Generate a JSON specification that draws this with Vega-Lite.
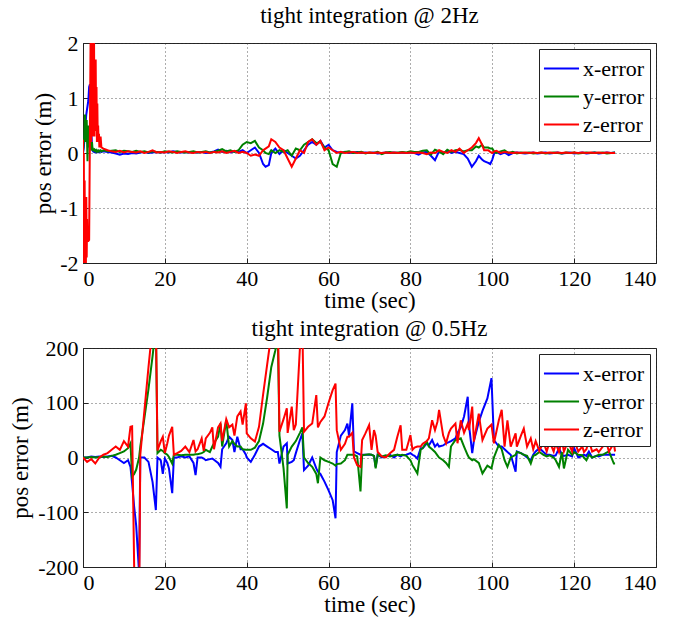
{
  "$schema": "https://vega.github.io/schema/vega-lite/v6.json",
  "padding": {"left": 8, "top": 4, "right": 5, "bottom": 5},
  "spacing": 4,
  "config": {
    "font": "Liberation Serif",
    "view": {"stroke": "#222", "strokeWidth": 1},
    "axis": {
      "labelFont": "Liberation Serif", "labelFontSize": 22, "labelColor": "#000",
      "titleFont": "Liberation Serif", "titleFontSize": 23, "titleFontWeight": "normal", "titleColor": "#000",
      "domainColor": "#222", "ticks": true, "tickSize": -5, "tickColor": "#222", "labelPadding": 10, "titlePadding": 0,
      "gridColor": "#333", "gridDash": [1, 3], "gridOpacity": 0.8, "labelExpr": "'' + datum.value"
    },
    "title": {"font": "Liberation Serif", "fontSize": 23, "fontWeight": "normal", "color": "#000", "baseline": "alphabetic"},
    "legend": {
      "orient": "top-right", "offset": 6, "strokeColor": "#222", "fillColor": "white", "padding": 5,
      "labelFont": "Liberation Serif", "labelFontSize": 22, "labelColor": "#000", "labelOffset": 7,
      "symbolType": "M-1.3,0H1.3", "symbolSize": 729, "symbolStrokeWidth": 2, "symbolOffset": 3, "rowPadding": 2, "title": null
    }
  },
  "resolve": {"legend": {"color": "independent"}, "scale": {"color": "independent"}},
  "datasets": {
    "top": [
      {"t":0,"x":0.0,"y":0.0,"z":0.24},
      {"t":0.1,"x":0.05,"y":0.1,"z":-2.2},
      {"t":0.2,"x":0.1,"y":0.2,"z":0.0},
      {"t":0.3,"x":0.2,"y":0.3,"z":-2.3},
      {"t":0.4,"x":0.3,"y":0.5,"z":-0.5},
      {"t":0.5,"x":0.4,"y":0.7,"z":-2.2},
      {"t":0.6,"x":0.5,"y":0.4,"z":-1.0},
      {"t":0.7,"x":0.6,"y":0.2,"z":-2.1},
      {"t":0.8,"x":0.7,"y":0.5,"z":-0.8},
      {"t":0.9,"x":0.75,"y":0.6,"z":-1.9},
      {"t":1.0,"x":0.8,"y":0.2,"z":-1.2},
      {"t":1.1,"x":0.85,"y":-0.15,"z":-1.6},
      {"t":1.3,"x":0.95,"y":0.5,"z":-1.6},
      {"t":1.5,"x":1.2,"y":0.1,"z":-1.58},
      {"t":1.7,"x":1.25,"y":0.3,"z":0.5},
      {"t":1.9,"x":1.0,"y":0.1,"z":2.5},
      {"t":2.0,"x":0.6,"y":0.05,"z":0.2},
      {"t":2.1,"x":0.3,"y":0.15,"z":2.4},
      {"t":2.2,"x":0.1,"y":0.2,"z":0.5},
      {"t":2.3,"x":0.05,"y":0.1,"z":2.5},
      {"t":2.4,"x":0.04,"y":0.05,"z":0.3},
      {"t":2.5,"x":0.03,"y":0.05,"z":2.2},
      {"t":2.6,"x":0.04,"y":0.08,"z":0.6},
      {"t":2.7,"x":0.03,"y":0.05,"z":2.0},
      {"t":2.8,"x":0.02,"y":0.04,"z":0.3},
      {"t":2.9,"x":0.03,"y":0.06,"z":1.7},
      {"t":3.0,"x":0.02,"y":0.05,"z":0.4},
      {"t":3.1,"x":0.03,"y":0.04,"z":1.7},
      {"t":3.2,"x":0.02,"y":0.05,"z":0.5},
      {"t":3.3,"x":0.03,"y":0.03,"z":1.2},
      {"t":3.4,"x":0.02,"y":0.04,"z":0.2},
      {"t":3.5,"x":0.03,"y":0.03,"z":0.9},
      {"t":3.6,"x":0.02,"y":0.04,"z":0.3},
      {"t":3.7,"x":0.03,"y":0.03,"z":0.5},
      {"t":3.8,"x":0.02,"y":0.04,"z":0.2},
      {"t":3.9,"x":0.03,"y":0.03,"z":0.35},
      {"t":4.0,"x":0.02,"y":0.04,"z":0.1},
      {"t":4.3,"x":0.03,"y":0.05,"z":0.3},
      {"t":4.5,"x":0.02,"y":0.03,"z":0.1},
      {"t":5,"x":0.03,"y":0.05,"z":0.08},
      {"t":6,"x":0.02,"y":0.03,"z":0.05},
      {"t":7,"x":0.01,"y":0.04,"z":0.03},
      {"t":8,"x":-0.01,"y":0.05,"z":0.02},
      {"t":9,"x":-0.03,"y":0.02,"z":0.04},
      {"t":10,"x":-0.01,"y":0.04,"z":0.01},
      {"t":11,"x":-0.02,"y":0.03,"z":0.03},
      {"t":12,"x":0.0,"y":0.02,"z":0.02},
      {"t":13,"x":-0.01,"y":0.04,"z":0.01},
      {"t":14,"x":0.01,"y":0.02,"z":0.03},
      {"t":15,"x":0.02,"y":0.03,"z":0.0},
      {"t":16,"x":0.0,"y":0.01,"z":0.02},
      {"t":17,"x":0.01,"y":0.03,"z":0.05},
      {"t":18,"x":0.02,"y":0.02,"z":0.01},
      {"t":19,"x":0.01,"y":0.01,"z":0.02},
      {"t":20,"x":0.02,"y":0.03,"z":0.01},
      {"t":21,"x":0.01,"y":0.02,"z":0.03},
      {"t":22,"x":0.03,"y":0.01,"z":0.02},
      {"t":23,"x":0.02,"y":0.03,"z":0.0},
      {"t":24,"x":0.01,"y":0.02,"z":0.02},
      {"t":25,"x":0.02,"y":0.01,"z":0.03},
      {"t":26,"x":0.01,"y":0.02,"z":0.01},
      {"t":27,"x":0.02,"y":0.03,"z":0.0},
      {"t":28,"x":0.01,"y":0.01,"z":0.02},
      {"t":29,"x":0.02,"y":0.02,"z":0.01},
      {"t":30,"x":0.0,"y":0.03,"z":0.02},
      {"t":31,"x":0.01,"y":0.01,"z":0.0},
      {"t":32,"x":0.03,"y":0.02,"z":0.02},
      {"t":33,"x":0.06,"y":0.04,"z":0.01},
      {"t":34,"x":0.02,"y":0.07,"z":0.03},
      {"t":35,"x":0.04,"y":0.03,"z":0.0},
      {"t":36,"x":0.01,"y":0.05,"z":0.02},
      {"t":37,"x":0.03,"y":0.02,"z":0.04},
      {"t":38,"x":0.02,"y":0.05,"z":0.0},
      {"t":39,"x":0.05,"y":0.15,"z":0.02},
      {"t":40,"x":0.0,"y":0.2,"z":0.0},
      {"t":41,"x":0.05,"y":0.18,"z":-0.05},
      {"t":42,"x":0.1,"y":0.22,"z":-0.03},
      {"t":43,"x":0.0,"y":0.1,"z":-0.05},
      {"t":44,"x":-0.2,"y":0.05,"z":0.05},
      {"t":44.6,"x":-0.25,"y":0.0,"z":0.08},
      {"t":45.4,"x":-0.22,"y":-0.02,"z":0.12},
      {"t":46,"x":0.0,"y":0.05,"z":0.25},
      {"t":47,"x":0.08,"y":0.0,"z":0.2},
      {"t":48,"x":-0.02,"y":0.05,"z":0.1},
      {"t":49,"x":0.05,"y":0.02,"z":0.05},
      {"t":50,"x":0.0,"y":0.05,"z":-0.1},
      {"t":51,"x":-0.05,"y":-0.05,"z":-0.25},
      {"t":52,"x":-0.1,"y":0.08,"z":-0.1},
      {"t":53,"x":-0.05,"y":0.05,"z":0.05},
      {"t":54,"x":0.05,"y":0.15,"z":0.0},
      {"t":55,"x":0.15,"y":0.2,"z":0.2},
      {"t":56,"x":0.2,"y":0.25,"z":0.25},
      {"t":57,"x":0.15,"y":0.18,"z":0.15},
      {"t":58,"x":0.22,"y":0.2,"z":0.22},
      {"t":59,"x":0.1,"y":0.1,"z":0.05},
      {"t":60,"x":0.15,"y":0.05,"z":0.1},
      {"t":61,"x":0.05,"y":-0.2,"z":0.05},
      {"t":62,"x":0.02,"y":-0.25,"z":0.0},
      {"t":63,"x":0.0,"y":0.0,"z":0.02},
      {"t":64,"x":0.02,"y":0.02,"z":0.0},
      {"t":65,"x":0.0,"y":0.03,"z":0.01},
      {"t":66,"x":0.01,"y":0.0,"z":0.02},
      {"t":67,"x":0.02,"y":0.01,"z":0.0},
      {"t":68,"x":0.0,"y":0.02,"z":0.01},
      {"t":69,"x":0.01,"y":-0.01,"z":0.0},
      {"t":70,"x":0.0,"y":0.01,"z":0.01},
      {"t":71,"x":0.01,"y":0.0,"z":0.0},
      {"t":72,"x":-0.01,"y":0.02,"z":0.01},
      {"t":73,"x":0.0,"y":-0.02,"z":0.0},
      {"t":74,"x":0.01,"y":0.01,"z":0.01},
      {"t":75,"x":0.0,"y":0.02,"z":0.0},
      {"t":76,"x":0.01,"y":0.0,"z":0.01},
      {"t":77,"x":0.0,"y":0.01,"z":0.0},
      {"t":78,"x":0.01,"y":0.02,"z":0.01},
      {"t":79,"x":0.0,"y":0.01,"z":0.0},
      {"t":80,"x":0.01,"y":0.03,"z":0.01},
      {"t":81,"x":0.0,"y":0.02,"z":0.0},
      {"t":82,"x":-0.03,"y":0.02,"z":0.01},
      {"t":83,"x":0.01,"y":0.04,"z":0.0},
      {"t":84,"x":0.02,"y":0.05,"z":-0.02},
      {"t":85,"x":-0.05,"y":-0.03,"z":0.01},
      {"t":86,"x":-0.13,"y":0.06,"z":0.0},
      {"t":87,"x":0.03,"y":0.03,"z":0.05},
      {"t":88,"x":0.0,"y":-0.02,"z":0.02},
      {"t":89,"x":0.04,"y":0.06,"z":0.0},
      {"t":90,"x":0.0,"y":0.02,"z":0.05},
      {"t":91,"x":0.02,"y":0.05,"z":0.02},
      {"t":92,"x":0.0,"y":0.06,"z":0.08},
      {"t":93,"x":-0.02,"y":0.03,"z":0.0},
      {"t":94,"x":-0.1,"y":0.05,"z":0.05},
      {"t":95,"x":-0.25,"y":0.05,"z":0.1},
      {"t":96,"x":-0.15,"y":0.12,"z":0.18},
      {"t":96.7,"x":-0.05,"y":0.1,"z":0.27},
      {"t":97.5,"x":-0.12,"y":0.15,"z":0.15},
      {"t":98,"x":-0.15,"y":0.1,"z":0.05},
      {"t":99,"x":-0.18,"y":0.1,"z":0.05},
      {"t":99.5,"x":-0.2,"y":0.08,"z":0.02},
      {"t":100,"x":-0.12,"y":0.08,"z":0.0},
      {"t":100.5,"x":0.0,"y":0.02,"z":0.03},
      {"t":101,"x":0.02,"y":0.0,"z":0.04},
      {"t":102,"x":-0.02,"y":0.03,"z":0.0},
      {"t":103,"x":0.01,"y":0.05,"z":0.02},
      {"t":104,"x":-0.04,"y":0.0,"z":0.01},
      {"t":105,"x":0.0,"y":0.02,"z":0.0},
      {"t":106,"x":0.01,"y":-0.01,"z":0.01},
      {"t":107,"x":0.0,"y":0.01,"z":0.0},
      {"t":108,"x":-0.01,"y":0.0,"z":0.01},
      {"t":109,"x":0.0,"y":0.01,"z":0.0},
      {"t":110,"x":0.01,"y":-0.01,"z":0.01},
      {"t":111,"x":-0.01,"y":0.0,"z":0.0},
      {"t":112,"x":0.0,"y":0.01,"z":0.01},
      {"t":113,"x":0.01,"y":-0.01,"z":0.0},
      {"t":114,"x":-0.01,"y":0.0,"z":0.01},
      {"t":115,"x":0.0,"y":0.01,"z":0.0},
      {"t":116,"x":0.01,"y":0.0,"z":0.01},
      {"t":117,"x":-0.01,"y":-0.01,"z":0.0},
      {"t":118,"x":0.0,"y":0.01,"z":0.01},
      {"t":119,"x":0.01,"y":0.0,"z":0.0},
      {"t":120,"x":-0.01,"y":0.01,"z":0.01},
      {"t":121,"x":0.0,"y":-0.01,"z":0.0},
      {"t":122,"x":0.01,"y":0.0,"z":0.01},
      {"t":123,"x":-0.01,"y":0.01,"z":0.0},
      {"t":124,"x":0.0,"y":0.0,"z":0.01},
      {"t":125,"x":0.01,"y":0.01,"z":0.0},
      {"t":126,"x":-0.01,"y":0.0,"z":0.01},
      {"t":127,"x":0.0,"y":0.01,"z":0.0},
      {"t":128,"x":0.01,"y":-0.01,"z":0.01},
      {"t":129,"x":0.0,"y":0.0,"z":0.0},
      {"t":130,"x":0.01,"y":0.01,"z":0.0}
    ],
    "bot": [
      {"t":0,"x":0,"y":0,"z":0},
      {"t":1,"x":0,"y":0,"z":-8},
      {"t":2,"x":2,"y":1,"z":-3},
      {"t":3,"x":1,"y":0,"z":-11},
      {"t":4,"x":2,"y":1,"z":0},
      {"t":5,"x":1,"y":2,"z":5},
      {"t":6,"x":2,"y":1,"z":8},
      {"t":7,"x":3,"y":3,"z":14},
      {"t":8,"x":0,"y":5,"z":20},
      {"t":9,"x":-5,"y":8,"z":14},
      {"t":10,"x":-10,"y":11,"z":30},
      {"t":11,"x":-5,"y":17,"z":20},
      {"t":11.6,"x":-17,"y":26,"z":56},
      {"t":12,"x":-47,"y":-35,"z":57},
      {"t":12.5,"x":-90,"y":-30,"z":-200},
      {"t":13,"x":-125,"y":-22,"z":-300},
      {"t":13.7,"x":-210,"y":0,"z":-300},
      {"t":14,"x":0,"y":20,"z":5},
      {"t":15,"x":0,"y":72,"z":85},
      {"t":16,"x":-8,"y":125,"z":165},
      {"t":17,"x":-45,"y":185,"z":240},
      {"t":17.8,"x":-96,"y":240,"z":260},
      {"t":18.2,"x":0,"y":8,"z":13},
      {"t":19,"x":-5,"y":14,"z":30},
      {"t":19.5,"x":-30,"y":12,"z":38},
      {"t":20,"x":-2,"y":8,"z":8},
      {"t":20.6,"x":-10,"y":5,"z":26},
      {"t":21,"x":-20,"y":1,"z":40},
      {"t":21.8,"x":-65,"y":-11,"z":56},
      {"t":22.2,"x":0,"y":5,"z":5},
      {"t":23,"x":0,"y":5,"z":8},
      {"t":24,"x":2,"y":4,"z":12},
      {"t":25,"x":0,"y":5,"z":20},
      {"t":26,"x":2,"y":5,"z":10},
      {"t":27,"x":-10,"y":5,"z":32},
      {"t":27.5,"x":-32,"y":6,"z":11},
      {"t":28,"x":0,"y":6,"z":15},
      {"t":29,"x":0,"y":8,"z":35},
      {"t":29.5,"x":-2,"y":10,"z":12},
      {"t":30,"x":-5,"y":14,"z":35},
      {"t":31,"x":-3,"y":10,"z":45},
      {"t":31.6,"x":-2,"y":20,"z":55},
      {"t":32,"x":-4,"y":26,"z":15},
      {"t":33,"x":-10,"y":38,"z":55},
      {"t":33.6,"x":-17,"y":62,"z":62},
      {"t":34,"x":15,"y":20,"z":30},
      {"t":35,"x":26,"y":68,"z":70},
      {"t":35.7,"x":38,"y":20,"z":55},
      {"t":36.5,"x":32,"y":30,"z":60},
      {"t":37,"x":10,"y":25,"z":40},
      {"t":37.7,"x":38,"y":20,"z":75},
      {"t":38.5,"x":15,"y":20,"z":84},
      {"t":39,"x":15,"y":15,"z":60},
      {"t":39.8,"x":5,"y":14,"z":99},
      {"t":40,"x":0,"y":14,"z":44},
      {"t":41,"x":-8,"y":14,"z":35},
      {"t":42,"x":5,"y":18,"z":29},
      {"t":43,"x":20,"y":30,"z":56},
      {"t":44,"x":25,"y":62,"z":115},
      {"t":45,"x":20,"y":110,"z":170},
      {"t":46,"x":15,"y":165,"z":225},
      {"t":47,"x":10,"y":196,"z":260},
      {"t":47.6,"x":10,"y":220,"z":270},
      {"t":48,"x":-11,"y":40,"z":47},
      {"t":49,"x":20,"y":-20,"z":70},
      {"t":49.8,"x":26,"y":-93,"z":90},
      {"t":50,"x":-11,"y":5,"z":45},
      {"t":51,"x":-8,"y":20,"z":93},
      {"t":51.5,"x":-5,"y":25,"z":50},
      {"t":52,"x":8,"y":30,"z":60},
      {"t":53,"x":32,"y":45,"z":200},
      {"t":53.6,"x":44,"y":55,"z":240},
      {"t":54,"x":-23,"y":0,"z":47},
      {"t":55,"x":-15,"y":-10,"z":56},
      {"t":56,"x":0,"y":-17,"z":62},
      {"t":57,"x":-20,"y":-30,"z":114},
      {"t":57.4,"x":-26,"y":-47,"z":55},
      {"t":58,"x":-30,"y":0,"z":65},
      {"t":59,"x":-44,"y":-5,"z":75},
      {"t":60,"x":-60,"y":-8,"z":100},
      {"t":61,"x":-78,"y":-11,"z":123},
      {"t":61.7,"x":-111,"y":-15,"z":135},
      {"t":62,"x":10,"y":-12,"z":50},
      {"t":63,"x":40,"y":-11,"z":14},
      {"t":64,"x":50,"y":-5,"z":25},
      {"t":64.6,"x":62,"y":5,"z":38},
      {"t":65,"x":40,"y":5,"z":38},
      {"t":65.8,"x":99,"y":5,"z":45},
      {"t":66.2,"x":11,"y":5,"z":0},
      {"t":67,"x":8,"y":2,"z":-14},
      {"t":67.8,"x":5,"y":-62,"z":-17},
      {"t":68.2,"x":5,"y":4,"z":32},
      {"t":69,"x":5,"y":5,"z":44},
      {"t":69.9,"x":5,"y":6,"z":59},
      {"t":70.5,"x":5,"y":5,"z":14},
      {"t":71.1,"x":3,"y":3,"z":50},
      {"t":71.5,"x":-17,"y":-20,"z":40},
      {"t":72,"x":5,"y":5,"z":10},
      {"t":73,"x":0,"y":2,"z":2},
      {"t":74,"x":2,"y":4,"z":0},
      {"t":75,"x":5,"y":2,"z":8},
      {"t":76,"x":0,"y":4,"z":14},
      {"t":76.8,"x":5,"y":5,"z":38},
      {"t":77.6,"x":2,"y":4,"z":59},
      {"t":78,"x":4,"y":5,"z":14},
      {"t":79,"x":5,"y":3,"z":14},
      {"t":80,"x":8,"y":-5,"z":41},
      {"t":80.5,"x":5,"y":-14,"z":14},
      {"t":81,"x":3,"y":-20,"z":18},
      {"t":81.7,"x":-2,"y":-29,"z":20},
      {"t":82.5,"x":17,"y":14,"z":20},
      {"t":83,"x":17,"y":17,"z":25},
      {"t":84,"x":26,"y":29,"z":30},
      {"t":84.5,"x":22,"y":20,"z":35},
      {"t":85.3,"x":32,"y":15,"z":68},
      {"t":86,"x":20,"y":10,"z":50},
      {"t":86.6,"x":25,"y":4,"z":65},
      {"t":87,"x":20,"y":0,"z":87},
      {"t":88,"x":22,"y":-5,"z":40},
      {"t":88.7,"x":26,"y":-10,"z":26},
      {"t":89.4,"x":28,"y":-17,"z":45},
      {"t":89.9,"x":30,"y":20,"z":53},
      {"t":91,"x":35,"y":32,"z":62},
      {"t":91.5,"x":45,"y":33,"z":26},
      {"t":92.3,"x":55,"y":35,"z":68},
      {"t":93.1,"x":75,"y":20,"z":45},
      {"t":94,"x":111,"y":4,"z":62},
      {"t":94.3,"x":60,"y":0,"z":50},
      {"t":95.1,"x":8,"y":-5,"z":93},
      {"t":95.5,"x":30,"y":-3,"z":29},
      {"t":96.7,"x":65,"y":-10,"z":80},
      {"t":97.6,"x":85,"y":-29,"z":32},
      {"t":98.8,"x":108,"y":-15,"z":53},
      {"t":99.8,"x":145,"y":-20,"z":60},
      {"t":100.4,"x":32,"y":0,"z":26},
      {"t":101.6,"x":20,"y":23,"z":68},
      {"t":102.3,"x":20,"y":15,"z":87},
      {"t":103,"x":15,"y":-5,"z":20},
      {"t":103.7,"x":10,"y":-17,"z":68},
      {"t":104.5,"x":5,"y":0,"z":20},
      {"t":105.7,"x":-26,"y":5,"z":44},
      {"t":106,"x":11,"y":10,"z":20},
      {"t":107,"x":8,"y":8,"z":40},
      {"t":107.7,"x":5,"y":5,"z":53},
      {"t":108.5,"x":0,"y":3,"z":20},
      {"t":109.4,"x":-5,"y":-11,"z":35},
      {"t":110,"x":5,"y":3,"z":15},
      {"t":110.6,"x":11,"y":5,"z":30},
      {"t":111.5,"x":17,"y":10,"z":12},
      {"t":112.5,"x":10,"y":5,"z":28},
      {"t":113.3,"x":5,"y":2,"z":11},
      {"t":114,"x":5,"y":4,"z":29},
      {"t":115,"x":3,"y":0,"z":11},
      {"t":115.5,"x":4,"y":-5,"z":26},
      {"t":116.3,"x":17,"y":-17,"z":10},
      {"t":117,"x":5,"y":10,"z":32},
      {"t":117.5,"x":3,"y":-20,"z":11},
      {"t":118.5,"x":5,"y":14,"z":29},
      {"t":119.5,"x":2,"y":5,"z":11},
      {"t":120,"x":17,"y":10,"z":32},
      {"t":121,"x":0,"y":5,"z":11},
      {"t":122,"x":3,"y":4,"z":20},
      {"t":122.4,"x":5,"y":0,"z":10},
      {"t":123,"x":3,"y":-5,"z":15},
      {"t":123.6,"x":11,"y":5,"z":32},
      {"t":124.4,"x":0,"y":0,"z":11},
      {"t":125.5,"x":3,"y":3,"z":15},
      {"t":126,"x":2,"y":5,"z":10},
      {"t":127,"x":5,"y":5,"z":20},
      {"t":127.7,"x":5,"y":8,"z":32},
      {"t":128.5,"x":5,"y":11,"z":11},
      {"t":129.7,"x":5,"y":-11,"z":26},
      {"t":130,"x":5,"y":-11,"z":11}
    ]
  },
  "vconcat": [
    {
      "title": {"text": "tight integration @ 2Hz", "offset": 4},
      "width": 573, "height": 220,
      "data": {"name": "top"},
      "transform": [{"fold": ["x", "y", "z"], "as": ["axis", "err"]}],
      "mark": {"type": "line", "clip": true, "strokeWidth": 2},
      "encoding": {
        "x": {"field": "t", "type": "quantitative", "scale": {"domain": [0, 140], "nice": false},
              "axis": {"values": [0, 20, 40, 60, 80, 100, 120, 140], "title": "time (sec)"}},
        "y": {"field": "err", "type": "quantitative", "scale": {"domain": [-2, 2], "nice": false},
              "axis": {"values": [-2, -1, 0, 1, 2], "title": "pos error (m)", "titleBaseline": "alphabetic", "titleX": -33}},
        "color": {"field": "axis", "type": "nominal",
                  "scale": {"domain": ["x", "y", "z"], "range": ["#0000ff", "#008000", "#ff0000"]},
                  "legend": {"labelExpr": "datum.label + '-error'"}}
      }
    },
    {
      "title": {"text": "tight integration @ 0.5Hz", "offset": -4},
      "width": 573, "height": 219,
      "data": {"name": "bot"},
      "transform": [{"fold": ["x", "y", "z"], "as": ["axis", "err"]}],
      "mark": {"type": "line", "clip": true, "strokeWidth": 2},
      "encoding": {
        "x": {"field": "t", "type": "quantitative", "scale": {"domain": [0, 140], "nice": false},
              "axis": {"values": [0, 20, 40, 60, 80, 100, 120, 140], "title": "time (sec)"}},
        "y": {"field": "err", "type": "quantitative", "scale": {"domain": [-200, 200], "nice": false},
              "axis": {"values": [-200, -100, 0, 100, 200], "title": "pos error (m)", "titleBaseline": "alphabetic", "titleX": -56}},
        "color": {"field": "axis", "type": "nominal",
                  "scale": {"domain": ["x", "y", "z"], "range": ["#0000ff", "#008000", "#ff0000"]},
                  "legend": {"labelExpr": "datum.label + '-error'"}}
      }
    }
  ]
}
